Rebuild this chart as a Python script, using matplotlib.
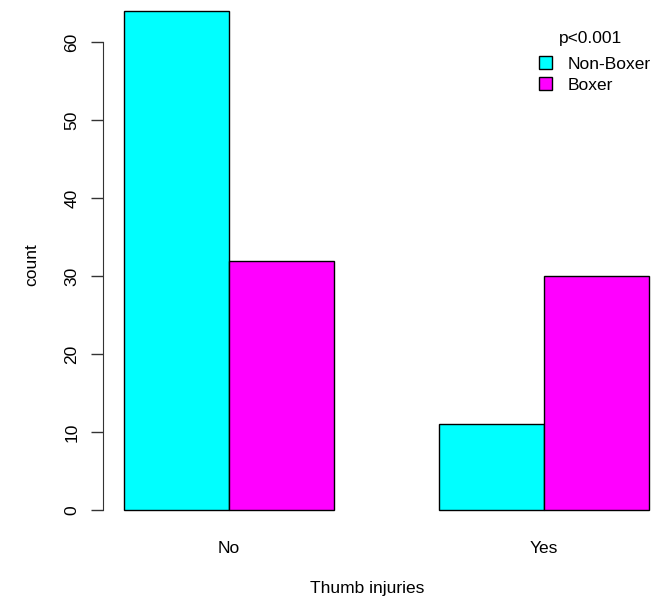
import matplotlib.pyplot as plt
from matplotlib.patches import Patch

plt.rcParams['font.family'] = ['Liberation Sans', 'DejaVu Sans']

# counts of thumb injuries by group
injury = ["No", "Yes"]
groups = ["Non-Boxer", "Boxer"]
non_boxer = [64, 11]
boxer = [32, 30]
colors = ["#00ffff", "#ff00ff"]

W, H = 657, 597
fig = plt.figure(figsize=(W / 100, H / 100), dpi=100)
# plot region (pixels): left 103, right 670, bottom 67 from bottom, top 606
ax = fig.add_axes([103 / W, 67 / H, 567 / W, 539 / H])

# R-style beside barplot: bar width 1, one unit gap between groups
width = 1.0
starts = [1, 4]
for i, s in enumerate(starts):
    ax.bar(s + 0.5, non_boxer[i], width=width, color=colors[0],
           edgecolor="black", linewidth=1)
    ax.bar(s + 1.5, boxer[i], width=width, color=colors[1],
           edgecolor="black", linewidth=1)

ax.set_xlim(0.8, 6.2)
ax.set_ylim(-2.56, 66.56)

for side in ["top", "right", "bottom"]:
    ax.spines[side].set_visible(False)
ax.spines["left"].set_bounds(0, 60)
ax.spines["left"].set_color("#333333")
ax.spines["left"].set_position(("data", 0.8))

ax.set_yticks(range(0, 61, 10))
ax.tick_params(axis="y", length=9, width=1, color="#333333", labelsize=12.5,
               labelrotation=90, pad=8)
for lab in ax.get_yticklabels():
    lab.set_verticalalignment("center")

ax.set_xticks([s + 1 for s in starts])
ax.set_xticklabels(injury)
ax.tick_params(axis="x", length=0, labelsize=12.5, pad=8)

fig.text(367 / W, 1 - 589 / H, "Thumb injuries", ha="center", va="center",
         fontsize=12.5)
fig.text(32 / W, 1 - 265 / H, "count", ha="center", va="center",
         rotation=90, fontsize=12.5)

# legend, with the test result as its heading
fig.text(591 / W, 1 - 38 / H, "p<0.001", ha="center", va="center",
         fontsize=12.5)
handles = [Patch(facecolor=c, edgecolor="black", linewidth=1) for c in colors]
leg = fig.legend(handles, groups, frameon=False,
                 loc="upper left", bbox_to_anchor=(536 / W, 1 - 53 / H),
                 fontsize=12.5, handlelength=0.75,
                 handleheight=0.75, handletextpad=0.9, labelspacing=0.3,
                 borderaxespad=0, borderpad=0.2)

fig.savefig("out.png", dpi=100)
